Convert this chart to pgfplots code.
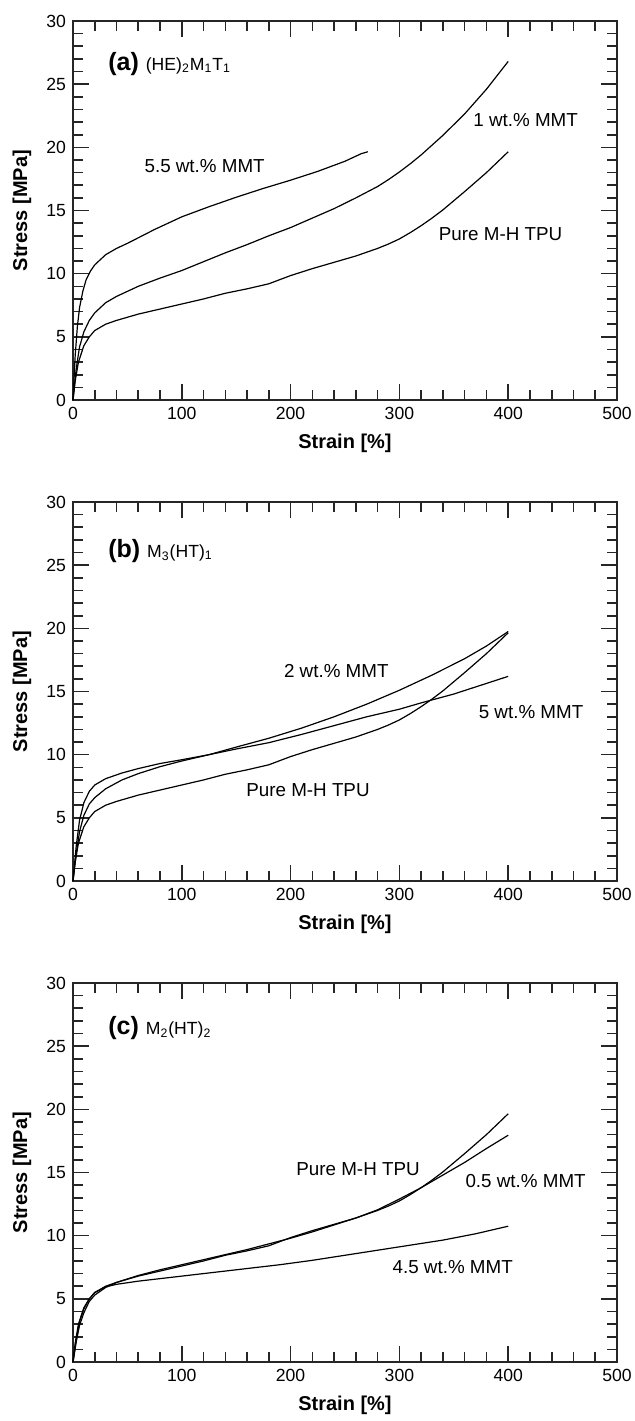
\documentclass[border=0pt]{standalone}
\usepackage{fontspec}
\setmainfont{Liberation Sans}
\usepackage{pgfplots}
\usepackage{pgfplotstable}
\pgfplotsset{compat=1.18}

% pure M-H TPU curve, shared by all three panels
\pgfplotstableread{
x y
0 0
2 1.5
5 3.0
10 4.3
15 5.0
20 5.5
30 6.0
40 6.3
60 6.8
80 7.2
100 7.6
120 8.0
140 8.45
160 8.8
180 9.2
200 9.85
220 10.4
240 10.9
260 11.4
280 12.0
290 12.35
300 12.75
310 13.25
320 13.8
330 14.4
340 15.05
360 16.5
380 18.0
400 19.65
}\pure

\pgfplotsset{
  panel/.style={
    scale only axis, width=272pt, height=189.5pt,
    xmin=0, xmax=500, ymin=0, ymax=30,
    xtick={0,100,...,500}, ytick={0,5,...,30},
    minor x tick num=4, minor y tick num=4,
    xtick align=inside, ytick align=inside,
    xtick pos=both, ytick pos=both,
    major tick length=8pt, minor tick length=5pt,
    axis line style={black!85, line width=0.8pt},
    every tick/.style={black!85, line width=0.8pt},
    every minor tick/.style={black!85, line width=0.8pt},
    tick label style={font=\fontsize{8.8}{10}\selectfont},
    /pgf/number format/assume math mode=true,
    xlabel={\textbf{Strain [\%]}}, ylabel={\textbf{Stress [MPa]}},
    label style={font=\fontsize{10}{12}\selectfont},
    xlabel style={at={(axis description cs:0.5,-0.1135)}, anchor=center},
    ylabel style={at={(axis description cs:-0.09375,0.5)}, anchor=center},
    clip=false,
  },
  curve/.style={black, line width=0.6pt, line join=round, no marks},
}
\newcommand{\ann}[2]{\node[font=\fontsize{9.4}{11}\selectfont] at (axis cs:#1) {#2};}

\begin{document}
\begin{tikzpicture}
% (a)
\begin{axis}[panel, at={(0,0)}, anchor=south west]
\addplot[curve] table[x=x, y=y] {\pure};
\addplot[curve] coordinates {(0,0) (3,2.5) (6,4.2) (10,5.4) (15,6.3) (20,6.9) (30,7.7) (40,8.2) (60,9.0) (80,9.65) (100,10.25) (120,10.95) (140,11.65) (160,12.3) (180,13.0) (200,13.65) (220,14.4) (240,15.15) (260,16.0) (280,16.9) (290,17.45) (300,18.05) (310,18.7) (320,19.4) (340,20.95) (360,22.65) (380,24.6) (400,26.8)};
\addplot[curve] coordinates {(0,0) (2,3.5) (4,5.8) (6,7.3) (9,8.6) (12,9.5) (16,10.2) (20,10.7) (30,11.5) (40,12.0) (50,12.4) (75,13.5) (100,14.5) (125,15.3) (150,16.05) (175,16.75) (200,17.4) (225,18.1) (250,18.9) (265,19.5) (271,19.65)};
\node[anchor=base west] at (axis cs:26,26.1) {\fontsize{12.5}{14}\selectfont\textbf{(a)} \fontsize{8.8}{10}\selectfont(HE)\textsubscript{2}M\textsubscript{1}T\textsubscript{1}};
\ann{121,18.5}{5.5 wt.\% MMT}
\ann{416,22.2}{1 wt.\% MMT}
\ann{393,13.1}{Pure M-H TPU}
\end{axis}
% (b)
\begin{axis}[panel, at={(0,-240.5pt)}, anchor=south west]
\addplot[curve] table[x=x, y=y] {\pure};
\addplot[curve] coordinates {(0,0) (3,2.2) (6,3.9) (10,5.2) (15,6.1) (20,6.6) (30,7.3) (45,8.0) (60,8.5) (80,9.05) (100,9.5) (125,10.0) (150,10.6) (180,11.3) (210,12.1) (240,13.0) (270,14.0) (300,15.1) (330,16.3) (360,17.6) (380,18.6) (400,19.75)};
\addplot[curve] coordinates {(0,0) (3,2.8) (6,4.8) (10,6.2) (15,7.1) (20,7.6) (30,8.1) (45,8.55) (60,8.9) (80,9.3) (100,9.6) (125,10.0) (150,10.45) (180,10.95) (210,11.6) (240,12.3) (270,13.0) (300,13.6) (320,14.1) (350,14.8) (375,15.5) (400,16.2)};
\node[anchor=base west] at (axis cs:26,25.6) {\fontsize{12.5}{14}\selectfont\textbf{(b)} \fontsize{8.8}{10}\selectfont M\textsubscript{3}(HT)\textsubscript{1}};
\ann{242,16.6}{2 wt.\% MMT}
\ann{421,13.4}{5 wt.\% MMT}
\ann{216,7.2}{Pure M-H TPU}
\end{axis}
% (c)
\begin{axis}[panel, at={(0,-481pt)}, anchor=south west]
\addplot[curve] table[x=x, y=y] {\pure};
\addplot[curve] coordinates {(0,0) (3,1.6) (6,2.9) (10,3.9) (15,4.8) (20,5.3) (30,5.9) (40,6.3) (60,6.85) (80,7.3) (100,7.7) (120,8.1) (140,8.5) (160,8.9) (180,9.35) (200,9.8) (220,10.3) (240,10.85) (260,11.4) (280,12.05) (300,12.9) (320,13.8) (340,14.8) (360,15.8) (380,16.9) (400,17.95)};
\addplot[curve] coordinates {(0,0) (3,1.8) (6,3.2) (10,4.2) (15,5.0) (20,5.5) (30,5.95) (40,6.15) (60,6.4) (80,6.6) (100,6.8) (130,7.1) (160,7.4) (190,7.7) (220,8.05) (250,8.45) (280,8.85) (310,9.25) (340,9.65) (370,10.15) (400,10.75)};
\node[anchor=base west] at (axis cs:26,25.9) {\fontsize{12.5}{14}\selectfont\textbf{(c)} \fontsize{8.8}{10}\selectfont M\textsubscript{2}(HT)\textsubscript{2}};
\ann{262,15.3}{Pure M-H TPU}
\ann{416,14.3}{0.5 wt.\% MMT}
\ann{349,7.5}{4.5 wt.\% MMT}
\end{axis}
\pgfresetboundingbox
\path[use as bounding box] (-36.5pt,-510.5pt) rectangle (280.5pt,200pt);
\end{tikzpicture}
\end{document}
